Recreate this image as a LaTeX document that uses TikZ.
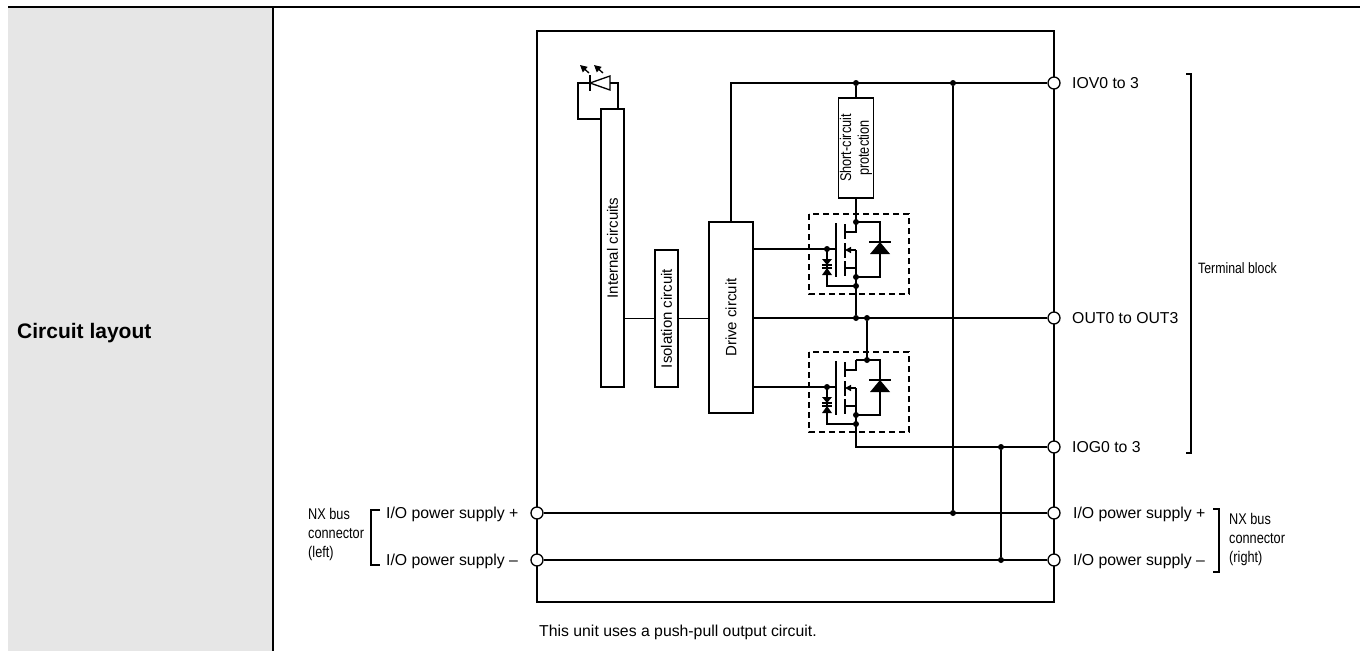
\documentclass[tikz,border=0pt]{standalone}
\usepackage{fontspec}
\setmainfont{Liberation Sans}
\newfontfamily\narrowfont[FakeStretch=0.82]{Liberation Sans}
\usetikzlibrary{arrows.meta}

\definecolor{panelgray}{HTML}{E6E6E6}
\tikzset{
  rule/.style={line width=2pt},
  frame/.style={line width=2pt},
  wire/.style={line width=1.3pt},
  blockbox/.style={draw, line width=1.3pt, inner sep=0pt},
  cellbox/.style={line width=1.3pt, dash pattern=on 6pt off 4pt},
  term/.style={circle, draw, fill=white, line width=1.3pt, minimum size=12pt, inner sep=0pt},
  junction/.style={circle, fill=black, minimum size=6pt, inner sep=0pt},
  lab/.style={inner sep=0pt, font=\fontsize{15.8}{18}\selectfont},
  boxtext/.style={inner sep=0pt, font=\fontsize{15}{18}\selectfont},
  narrowlab/.style={inner sep=0pt, align=left, font=\narrowfont\fontsize{15.5}{19}\selectfont},
  emit/.style={wire, -{Triangle[length=7pt,width=7pt]}},
  body/.style={wire, -{Triangle[length=6pt,width=6pt]}}
}

\begin{document}
\begin{tikzpicture}[x=1pt,y=-1pt]
\useasboundingbox (0,0) rectangle (1360,651);
%tabella
\fill[panelgray] (8,8) rectangle (273,651);
\draw[rule] (8,7) -- (1360,7);
\draw[rule] (273,7) -- (273,651);
\node[anchor=base west, inner sep=0pt, font=\fontsize{21}{24}\selectfont\bfseries] (title) at (17,338) {Circuit layout};

%cornice
\draw[frame] (537,31) rectangle (1054,602);

%blocchi
\node[blockbox, minimum width=23pt, minimum height=278pt] (intc) at (612.5,248) {};
\node[boxtext, rotate=90] (intct) at (intc) {Internal circuits};
\node[blockbox, minimum width=23pt, minimum height=137pt] (iso) at (666.5,318.5) {};
\node[boxtext, rotate=90] (isot) at (iso) {Isolation circuit};
\node[blockbox, minimum width=44pt, minimum height=191pt] (drv) at (731,317.5) {};
\node[boxtext, rotate=90] (drvt) at (drv) {Drive circuit};
\node[blockbox, minimum width=35pt, minimum height=100pt] (scp) at (856,148) {};
\node[narrowlab, align=center, rotate=90, font=\narrowfont\fontsize{15.5}{17.7}\selectfont] (scpt) at (scp) {Short-circuit\\protection};

%morsetti
\node[term] (iov) at (1054,83) {};
\node[term] (out) at (1054,318) {};
\node[term] (iog) at (1054,447) {};
\node[term] (vpr) at (1054,513) {};
\node[term] (vmr) at (1054,560) {};
\node[term] (vpl) at (537,513) {};
\node[term] (vml) at (537,560) {};

%nodi
\node[junction] (j1) at (856,83) {};
\node[junction] (j2) at (953,83) {};
\node[junction] (j3) at (953,513) {};
\node[junction] (j4) at (856,318) {};
\node[junction] (j5) at (867,318) {};
\node[junction] (j6) at (1001,447) {};
\node[junction] (j7) at (1001,560) {};
\coordinate (d1) at (856,222);
\coordinate (d2) at (867,360);
\coordinate (g1) at (827,249);
\coordinate (g2) at (827,387);
\coordinate (s1) at (856,286);
\coordinate (s2) at (856,424);
\coordinate (ledl) at (578,83);
\coordinate (ledr) at (618,83);

%collegamenti
\draw[wire] (intc.west |- 0,119) -| (ledl) -- (590,83);
\draw[wire] (intc.east |- iso) -- (iso.west);
\draw[wire] (iso.east) -- (drv.west |- iso);
\draw[wire] (drv.north) |- (iov.west);
\draw[wire] (j1) -- (scp.north);
\draw[wire] (scp.south) -- (d1);
\draw[wire] (j2) -- (j3);
\draw[wire] (vpl.east) -- (vpr.west);
\draw[wire] (vml.east) -- (vmr.west);
\draw[wire] (drv.east |- out) -- (out.west);
\draw[wire] (drv.east |- g1) -- (g1);
\draw[wire] (drv.east |- g2) -- (g2);
\draw[wire] (s1) -- (j4);
\draw[wire] (j5) -- (d2);
\draw[wire] (s2) |- (iog.west);
\draw[wire] (j6) -- (j7);

%led
\draw[wire] (590,75) -- (590,91);
\draw[wire, line join=miter] (590,83) -- (610,76) -- (610,90) -- cycle;
\draw[wire] (610,83) -- (ledr) -- (ledr |- intc.north);
\draw[emit] (589,73) -- (580,65);
\draw[emit] (603,73) -- (594,65);

%transistori
\foreach \t/\e in {214/856,352/867}{
  \draw[cellbox] (809,\t) rectangle (909,\t+80);
  \draw[wire] (856,\t+8) -- (880,\t+8) -- (880,\t+63) -- (856,\t+63);
  \draw[wire] (856,\t+8) -- (856,\t+18) -- (845,\t+18);
  \fill (870,\t+40) -- (890,\t+40) -- (880,\t+28) -- cycle;
  \draw[wire] (869,\t+28) -- (891,\t+28);
  \draw[wire] (845,\t+10) -- (845,\t+25) (845,\t+29) -- (845,\t+44) (845,\t+47) -- (845,\t+62);
  \draw[wire] (836,\t+9) -- (836,\t+63);
  \draw[wire] (845,\t+54) -- (856,\t+54);
  \draw[body] (856,\t+36) -- (845,\t+36);
  \draw[wire] (856,\t+36) -- (856,\t+72);
  \draw[wire] (827,\t+35) -- (836,\t+35);
  \draw[wire] (827,\t+35) -- (827,\t+72) -- (856,\t+72);
  \fill (822,\t+45) -- (832,\t+45) -- (827,\t+51) -- cycle;
  \draw[wire] (822,\t+51) -- (832,\t+51);
  \fill (822,\t+61) -- (832,\t+61) -- (827,\t+54) -- cycle;
  \draw[wire] (822,\t+54) -- (832,\t+54);
  \node[junction] at (\e,\t+8) {};
  \node[junction] at (827,\t+35) {};
  \node[junction] at (856,\t+63) {};
  \node[junction] at (856,\t+72) {};
}

%etichette
\node[lab, anchor=base west] (tiov) at (1072,88.7) {IOV0 to 3};
\node[lab, anchor=base west] (tout) at (1072,323.7) {OUT0 to OUT3};
\node[lab, anchor=base west] (tiog) at (1072,452.7) {IOG0 to 3};
\node[lab, anchor=base west] (tvpr) at (1073,518.7) {I/O power supply +};
\node[lab, anchor=base west] (tvmr) at (1073,565.7) {I/O power supply \textendash};
\node[lab, anchor=base west] (tvpl) at (386,518.7) {I/O power supply +};
\node[lab, anchor=base west] (tvml) at (386,565.7) {I/O power supply \textendash};
\node[lab, anchor=base west] (note) at (539,636) {This unit uses a push-pull output circuit.};

%parentesi
\draw[wire] (1186,74) -- (1191,74) -- (1191,453) -- (1186,453);
\node[narrowlab, anchor=west, font=\narrowfont\fontsize{15}{18}\selectfont] (tblock) at (1198,268) {Terminal block};
\draw[wire] (1213,509) -- (1219,509) -- (1219,572) -- (1213,572);
\node[narrowlab, anchor=west] (nxr) at (1229,539) {NX bus\\connector\\(right)};
\draw[wire] (380,510) -- (371,510) -- (371,565) -- (380,565);
\node[narrowlab, anchor=west] (nxl) at (308,534) {NX bus\\connector\\(left)};
\end{tikzpicture}
\end{document}
